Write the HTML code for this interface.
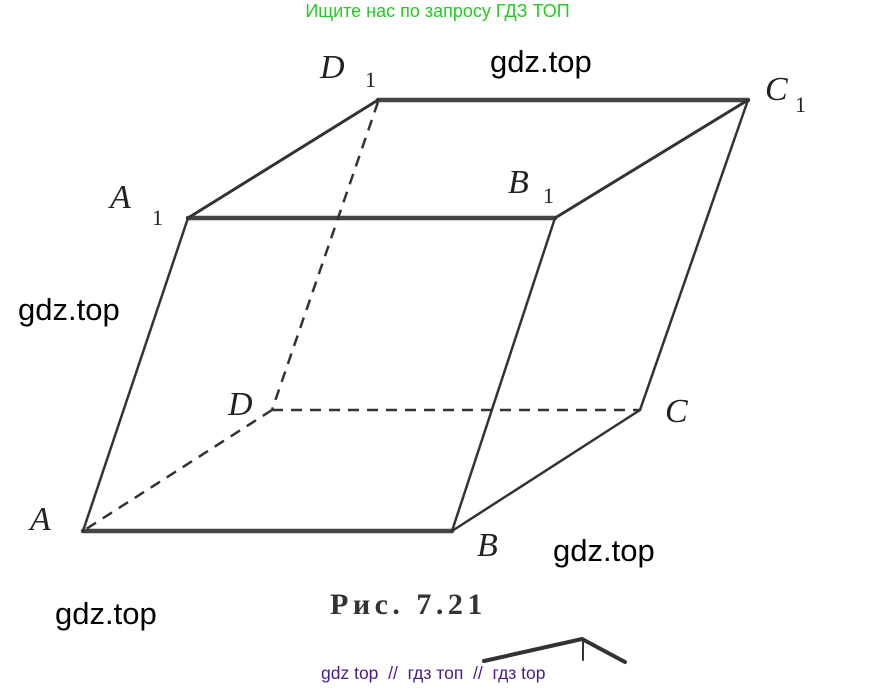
<!DOCTYPE html>
<html><head><meta charset="utf-8"><style>
body{margin:0;width:875px;height:688px;background:#fff;overflow:hidden;position:relative}
.t{position:absolute;font-family:"Liberation Sans",sans-serif;white-space:nowrap}
</style></head><body>
<svg width="875" height="688" style="position:absolute;left:0;top:0">
<g stroke="#333" fill="none" stroke-linecap="round">
<line x1="378" y1="100" x2="748" y2="100" stroke-width="4.5" stroke="#444"/>
<line x1="188" y1="218" x2="555" y2="218" stroke-width="4.5" stroke="#444"/>
<line x1="83" y1="531" x2="452" y2="531" stroke-width="4.5" stroke="#444"/>
<line x1="188" y1="218" x2="378" y2="100" stroke-width="3"/>
<line x1="555" y1="218" x2="748" y2="100" stroke-width="3"/>
<line x1="188" y1="218" x2="83" y2="531" stroke-width="2.5"/>
<line x1="555" y1="218" x2="452" y2="531" stroke-width="2.5"/>
<line x1="748" y1="100" x2="640" y2="410" stroke-width="2.5"/>
<line x1="452" y1="531" x2="640" y2="410" stroke-width="2.5"/>
<g stroke-dasharray="11,8" stroke-linecap="butt" stroke-width="2.5">
<line x1="378" y1="102" x2="272" y2="410"/>
<line x1="272" y1="410" x2="640" y2="410"/>
<line x1="272" y1="410" x2="83" y2="531"/>
</g>
<path d="M484 661 L582 639 L625 662" stroke-width="4"/>
<line x1="583" y1="642" x2="583" y2="660" stroke-width="2"/>
</g>
<g font-family="Liberation Serif,serif" font-style="italic" font-size="34" fill="#222">
<text x="320" y="78">D</text><text x="365" y="87" font-size="22" font-style="normal">1</text>
<text x="765" y="100">C</text><text x="795" y="112" font-size="22" font-style="normal">1</text>
<text x="110" y="208">A</text><text x="152" y="225" font-size="22" font-style="normal">1</text>
<text x="508" y="193">B</text><text x="543" y="203" font-size="22" font-style="normal">1</text>
<text x="228" y="415">D</text>
<text x="665" y="422">C</text>
<text x="30" y="530">A</text>
<text x="477" y="556">B</text>
</g>
<text x="330" y="614" font-family="Liberation Serif,serif" font-weight="bold" font-size="30" fill="#333" letter-spacing="4.5">Рис. 7.21</text>
</svg>
<div class="t" style="left:0;width:875px;text-align:center;top:1px;font-size:18px;color:#22cc22">Ищите нас по запросу ГДЗ ТОП</div>
<div class="t" style="left:490px;top:44px;font-size:31px;color:#000">gdz.top</div>
<div class="t" style="left:18px;top:292px;font-size:31px;color:#000">gdz.top</div>
<div class="t" style="left:553px;top:533px;font-size:31px;color:#000">gdz.top</div>
<div class="t" style="left:55px;top:596px;font-size:31px;color:#000">gdz.top</div>
<div class="t" style="left:321px;top:663px;font-size:17.5px;color:#4b1a8a">gdz top &nbsp;// &nbsp;гдз топ &nbsp;// &nbsp;гдз top</div>
</body></html>
